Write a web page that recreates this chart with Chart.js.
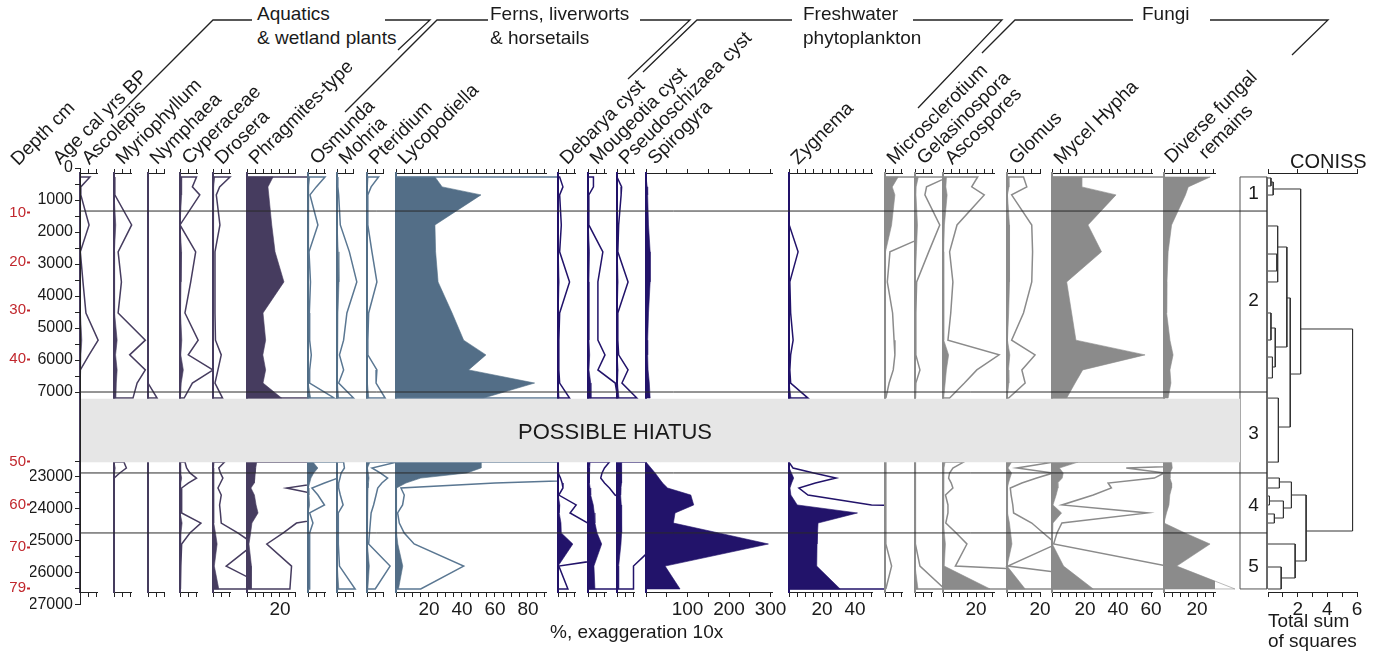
<!DOCTYPE html>
<html>
<head>
<meta charset="utf-8">
<title>Pollen and NPP diagram</title>
<script src="https://cdn.jsdelivr.net/npm/chart.js@4.4.1/dist/chart.umd.min.js"></script>
<style>
  body { margin: 0; width: 1382px; height: 655px; overflow: hidden; position: relative; background: #fff;
         font-family: "Liberation Sans", Arial, sans-serif; color: #1a1a1a; }
  canvas { position: absolute; }
  .rot { position: absolute; white-space: nowrap; font-size: 19px; line-height: 19px; transform-origin: 0 0; transform: rotate(-45deg); }
  .txt { position: absolute; white-space: nowrap; font-size: 19px; line-height: 24px; }
  #brackets { position: absolute; left: 0; top: 0; }
  #brackets polyline { fill: none; stroke: #222; stroke-width: 1.3; }
</style>
</head>
<body>
<svg id="brackets" width="1382" height="130">
  <polyline points="118,115 213,20 252,20"/>
  <polyline points="385,20 430,20 398,50"/>
  <polyline points="345,112 437,20 488,20"/>
  <polyline points="640,20 690,20 628,79"/>
  <polyline points="643,72 697,20 792,20"/>
  <polyline points="913,20 1002,20 918,108"/>
  <polyline points="982,53 1015,20 1133,20"/>
  <polyline points="1210,20 1328,20 1292,55"/>
</svg>
<script>
// ---- data ----
const sampleAge = [280, 590, 840, 1780, 2620, 3560, 4530, 5380, 5840, 6310, 6720, 7190,
                   22560, 22745, 22900, 23060, 23215, 23370, 23590, 23900, 24150, 24465, 24775, 25120, 25810, 26525];

const taxa = ['Ascolepis', 'Myriophyllum', 'Nymphaea', 'Cyperaceae', 'Drosera', 'Phragmites-type',
              'Osmunda', 'Mohria', 'Pteridium', 'Lycopodiella',
              'Debarya cyst', 'Mougeotia cyst', 'Pseudoschizaea cyst', 'Spirogyra', 'Zygnema',
              'Microsclerotium', 'Gelasinospora', 'Ascospores', 'Glomus', 'Mycel Hypha', 'Diverse fungal'];

const ascolepis      = [0.6, 0.05, 0.05, 0.55, 0.02, 0.18, 0.36, 1.1, 0.55, 0.02, 0, 0,
                        0, 0, 0, 0, 0, 0, 0, 0, 0, 0, 0, 0, 0, 0];
const myriophyllum   = [0.05, 0.05, 0.05, 1.07, 0.25, 0.45, 0.25, 1.9, 0.95, 1.9, 1.4, 1.15,
                        0.6, 0.75, 0.35, 0, 0, 0, 0, 0, 0, 0, 0, 0, 0, 0];
const nymphaea       = [0, 0, 0, 0, 0, 0, 0, 0, 0, 0, 0, 0.55,
                        0, 0, 0, 0, 0, 0, 0, 0, 0, 0, 0, 0, 0, 0];
const cyperaceae     = [1.0, 0.75, 1.2, 0, 0.95, 0.65, 0.3, 1.1, 0.5, 2.0, 0.75, 0.25,
                        0.3, 0.4, 0.6, 1.0, 0.5, 0.1, 0.1, 0.1, 0.1, 1.27, 0.6, 0.1, 0.05, 0.05];
const drosera        = [1.03, 0.4, 0.2, 0.42, 0.12, 0.12, 0.12, 0.15, 0.5, 0.3, 0.12, 0.58,
                        0.7, 0.35, 0.45, 0.6, 0.45, 0.3, 0.5, 0.4, 0.45, 0.5, 1.5, 2.5, 0.8, 3.5];
const phragmites     = [15.8, 12.7, 13.2, 15, 17, 22.4, 9.7, 11.3, 9.6, 11.3, 9.7, 21,
                        5.9, 5.3, 5, 4.8, 4.4, 2.4, 4.5, 5.5, 6.7, 3.0, 2.2, 1.2, 2.7, 2.6];
const osmunda        = [1.03, 0.5, 0.12, 0.6, 0.06, 0.15, 0.08, 0.1, 0.2, 0.1, 0.1, 1.6,
                        3, 6, 3.5, 1.8, 1.0, 0.24, 0.6, 1.0, 0.1, 0.3, 0.1, 0.1, 0.1, 0.1];
const mohria         = [0.05, 0.05, 0.1, 0.2, 0.75, 1.2, 0.6, 0.4, 0.15, 0.4, 0.1, 1.0,
                        0.4, 0.45, 0.25, 0.18, 0.1, 0.1, 0.2, 0.37, 0.08, 0.08, 0.08, 0.08, 0.15, 1.1];
const pteridium      = [0.7, 0.25, 0.05, 0.05, 0.3, 0.6, 0.1, 0.05, 0.05, 0.6, 0.55, 1.1,
                        1.8, 0.3, 0.8, 1.25, 0.9, 0.65, 0.55, 0.4, 0.25, 0.2, 0.15, 0.1, 1.4, 0.5];
const lycopodiella   = [23.6, 28, 51.5, 23.6, 24, 25.5, 34, 41, 54.5, 44, 84, 53,
                        51.5, 51.5, 43, 15, 6, 0.3, 0.5, 0.4, 0.1, 0.2, 0.5, 1.1, 4.1, 1.5];
const debarya        = [0.1, 0.3, 0.1, 0.2, 0.1, 0.7, 0.1, 0.05, 0.05, 0.05, 0.1, 0.7,
                        0, 0, 0.05, 0.15, 0.25, 0.3, 0.05, 1.1, 0.73, 1.8, 2.0, 9, 0.05, 0.6];
const mougeotia      = [0.33, 0.33, 0.05, 0.05, 0.9, 0.6, 0.6, 0.6, 1.03, 0.6, 1.65, 1.8,
                        1.3, 1.0, 0.85, 0.77, 1.0, 1.3, 1.64, 3.2, 3.8, 4.2, 5.5, 8.3, 3.6, 4.2];
const pseudoschizaea = [0.05, 0.28, 0.25, 0.1, 0.05, 0.67, 0.05, 0.05, 0.1, 0.67, 0.3, 1.2,
                        2.5, 2.5, 2.8, 3, 2.8, 2.4, 2.2, 2.6, 2.8, 3, 2.6, 2.4, 1.0, 1.0];
const spirogyra      = [2, 3, 4, 6, 10, 10, 6, 4, 4, 5, 8, 10,
                        2, 12, 22, 31, 40, 52, 108, 115, 70, 66, 175, 295, 46, 82];
const zygnema        = [0, 0, 0, 0.05, 0.55, 0.05, 0.1, 0.25, 0.1, 0.05, 0.1, 1.15,
                        0.05, 0.24, 1.5, 2.85, 1.6, 0.6, 1.15, 5, 41.5, 17.6, 17.3, 17, 16.8, 31];
const microsclerotium = [8, 4.4, 6, 4, 0.3, 0.14, 0.46, 0.55, 0.6, 0.5, 0.25, 0.05,
                        0.05, 0.05, 0.05, 0.05, 0.05, 0.05, 0.05, 0.05, 0.05, 0.05, 0.05, 0.05, 0.4, 0.05];
const gelasinospora  = [2.0, 0.7, 0.6, 1.5, 0.83, 0.1, 0.05, 0.05, 0.05, 0.3, 0.05, 0.05,
                        0.02, 0.02, 0.02, 0.02, 0.02, 0.02, 0.02, 0.02, 0.02, 0.02, 0.02, 0.05, 0.3, 1.8];
const ascospores     = [2.1, 1.74, 2.5, 0.85, 0.4, 0.6, 0.47, 0.3, 3.4, 2.05, 1.3, 0.4,
                        1.25, 0.6, 0.4, 0.34, 0.5, 0.6, 0.15, 0.3, 0.3, 0.17, 0.8, 1.45, 0.75, 28.5];
const glomus         = [1.0, 1.2, 0.28, 1.5, 1.55, 1.5, 1.0, 0.28, 1.7, 0.9, 1.1, 0.1,
                        2.8, 0.6, 2.8, 1.8, 0.9, 0.2, 0.25, 0.35, 0.4, 1.5, 2.2, 3, 0.05, 11];
const mycelHypha     = [18, 18, 38.8, 21.8, 30, 8.9, 11.9, 14.5, 56.4, 18.6, 14, 8.9,
                        15.8, 4.5, 6.8, 6.2, 3.4, 3.6, 2.5, 0.6, 5.8, 0.6, 0.3, 0.1, 7, 25];
const diverseFungal  = [28, 14.7, 13, 4.6, 2.5, 1.8, 1.6, 3.6, 5.5, 3.6, 4.2, 2.5,
                        4.6, 5, 3.6, 3.6, 4.6, 4.6, 3.5, 3.0, 1.5, 0, 12.7, 27.9, 7.7, 43];

const taxaValues = [ascolepis, myriophyllum, nymphaea, cyperaceae, drosera, phragmites,
                    osmunda, mohria, pteridium, lycopodiella,
                    debarya, mougeotia, pseudoschizaea, spirogyra, zygnema,
                    microsclerotium, gelasinospora, ascospores, glomus, mycelHypha, diverseFungal];
// which taxa get the 10x exaggeration outline
const exaggerated = taxa.map(t => t !== 'Spirogyra' && t !== 'Diverse fungal');
const EXAG = 10;

const hiatus = [7220, 22560];            // cal yrs BP, start / end of the gap
const zoneBounds = [1345, 7000, 22900, 24775];
const zoneNames = ['1', '2', '3', '4', '5'];

const ageTicks = [0, 500, 1000, 1500, 2000, 2500, 3000, 3500, 4000, 4500, 5000, 5500, 6000, 6500, 7000,
                  22500, 23000, 23500, 24000, 24500, 25000, 25500, 26000, 26500, 27000];
const depthCm  = [10, 20, 30, 40, 50, 60, 70, 79];
const depthAge = [1400, 2940, 4440, 5970, 22400, 23900, 25215, 26495];

// CONISS dendrogram: each bracket joins two children at height brH
const brH        = [0.2, 0.35, 2.2, 1.5, 1.27, 0.65, 0.6, 0.49, 0.2, 0.3, 0.7, 5.7, 2.57, 1.58, 0.77, 1.04, 0.1, 0.43, 1.83, 0.89];
const brTop      = [312, 438, 656, 4062, 2469, 1812, 2688, 5000, 4531, 5906, 7190, 5031, 23589, 23182, 23058, 23776, 23620, 24182, 25120, 25839];
const brBot      = [562, 844, 6438, 14030, 5594, 3562, 3219, 6219, 5375, 6562, 22560, 24714, 25651, 23995, 23370, 24308, 23901, 24464, 26182, 26526];
const brTopChild = [0, 0.2, 0.35, 1.27, 0.65, 0, 0, 0.2, 0, 0, 0, 2.2, 1.58, 0.77, 0, 0.1, 0, 0, 0, 0];
const brBotChild = [0, 0, 1.5, 0.7, 0.49, 0, 0, 0.3, 0, 0, 0, 2.57, 1.83, 1.04, 0, 0.43, 0, 0, 0.89, 0];

// ---- layout ----
const panelBase = [80, 114, 148, 180, 213, 247, 308, 337, 367, 396, 558, 588, 617, 646, 789, 885, 915, 943, 1007, 1052, 1164];
const panelLen  = [17, 17, 16, 17, 17, 48, 17, 16, 16, 150, 17, 18, 17, 126, 83, 17, 17, 51, 33, 100, 51];
const panelPx   = panelLen.map((l, i) => i === 13 ? 0.415 : 1.65);   // px per % unit
const minorStep = panelLen.map((l, i) => i === 13 ? 50 : 5);
const labelStep = panelLen.map((l, i) => i === 13 ? 100 : 20);
const groupOf   = [0, 0, 0, 0, 0, 0, 1, 1, 1, 1, 2, 2, 2, 2, 2, 3, 3, 3, 3, 3, 3];
const groupFill = ['#463c5f', '#536e87', '#22136a', '#8b8b8b'];
const groupLine = ['#463c5f', '#5a7792', '#22136a', '#8b8b8b'];
const LAST_EDGE = 1240;

const Y0 = 168, PXD = 0.032;               // page y of display value 0, px per display unit
const PLOT_TOP = 173, PLOT_BOT = 592;
const D_TOP = (PLOT_TOP - Y0) / PXD, D_BOT = (PLOT_BOT - Y0) / PXD;
const TOP_AX = 8, BOT_AX = 34;
const D_GAP = 1970;                         // display units given to the hiatus band

function toDisplay(a) {
  if (a <= hiatus[0]) return a;
  if (a >= hiatus[1]) return a - (hiatus[1] - hiatus[0]) + D_GAP;
  return hiatus[0] + (a - hiatus[0]) * D_GAP / (hiatus[1] - hiatus[0]);
}

Chart.defaults.font.family = '"Liberation Sans", Arial, sans-serif';
Chart.defaults.color = '#1a1a1a';
Chart.defaults.animation = false;
Chart.defaults.plugins.legend.display = false;
Chart.defaults.plugins.tooltip.enabled = false;

function addCanvas(left, top, w, h) {
  const c = document.createElement('canvas');
  c.width = w; c.height = h;
  c.style.left = left + 'px'; c.style.top = top + 'px';
  document.body.appendChild(c);
  return c;
}

function stepTicks(max, step) {
  return s => {
    const t = [];
    for (let v = 0; v <= max + 1e-6; v += step) t.push({ value: +v.toFixed(6) });
    if (max - t[t.length - 1].value > step * 0.3) t.push({ value: max });
    s.ticks = t;
  };
}

// curve points for one taxon, broken at the hiatus, closed to the baseline at both ends
function buildPoints(values, factor) {
  const segs = [[]];
  sampleAge.forEach((a, k) => {
    if (k > 0 && sampleAge[k - 1] <= hiatus[0] && a >= hiatus[1]) segs.push([]);
    segs[segs.length - 1].push(k);
  });
  const pts = [];
  segs.forEach((seg, si) => {
    const d0 = toDisplay(sampleAge[seg[0]]);
    const d1 = toDisplay(sampleAge[seg[seg.length - 1]]);
    if (si > 0) pts.push({ x: null, y: (pts[pts.length - 1].y + d0) / 2 });
    pts.push({ x: 0, y: d0 });
    seg.forEach(k => pts.push({ x: values[k] * factor, y: toDisplay(sampleAge[k]) }));
    pts.push({ x: 0, y: d1 });
  });
  return pts;
}

function depthScale() {
  return { type: 'linear', min: D_TOP, max: D_BOT, reverse: true, display: false };
}

// ---- taxon panels ----
taxa.forEach((name, i) => {
  const base = panelBase[i], len = panelLen[i];
  const max = len / panelPx[i];
  const next = i < taxa.length - 1 ? panelBase[i + 1] : LAST_EDGE;
  const padL = 4, padR = Math.max(next - base - len, 4);
  const cv = addCanvas(base - padL, PLOT_TOP - TOP_AX, padL + len + padR, TOP_AX + (PLOT_BOT - PLOT_TOP) + BOT_AX);
  const g = groupOf[i];
  const clip = { left: 3, top: 3, right: padR - 1, bottom: 3 };
  const datasets = [{
    data: buildPoints(taxaValues[i], 1),
    fill: 'origin', backgroundColor: groupFill[g], borderColor: groupFill[g], borderWidth: 0.6,
    pointRadius: 0, order: 2, clip: clip
  }];
  if (exaggerated[i]) datasets.push({
    data: buildPoints(taxaValues[i], EXAG),
    fill: false, borderColor: groupLine[g], borderWidth: 1.5,
    pointRadius: 0, order: 1, clip: clip
  });
  const lab = labelStep[i];
  new Chart(cv, {
    type: 'line',
    data: { datasets },
    options: {
      indexAxis: 'y', responsive: false, maintainAspectRatio: false, events: [],
      layout: { autoPadding: false, padding: { left: padL, right: padR, top: 0, bottom: 0 } },
      scales: {
        x: {
          type: 'linear', position: 'bottom', min: 0, max,
          afterBuildTicks: stepTicks(max, minorStep[i]),
          afterFit: s => { s.height = BOT_AX; },
          grid: { drawOnChartArea: false, tickLength: 5, tickColor: '#222' },
          border: { color: '#222' },
          ticks: { autoSkip: false, maxRotation: 0, padding: 1, font: { size: 19 },
                   callback: v => (v > 0 && Math.abs(v % lab) < 1e-6) ? String(v) : '' }
        },
        xTop: {
          type: 'linear', position: 'top', min: 0, max,
          afterBuildTicks: stepTicks(max, minorStep[i]),
          afterFit: s => { s.height = TOP_AX; },
          grid: { drawOnChartArea: false, tickLength: 4, tickColor: '#222' },
          border: { color: '#222' },
          ticks: { display: false }
        },
        y: {
          type: 'linear', min: D_TOP, max: D_BOT, reverse: true, position: 'left',
          afterFit: s => { s.width = 0; },
          grid: { display: false }, ticks: { display: false },
          border: { display: true, color: groupFill[g], width: 2 }
        }
      }
    }
  });
});

// ---- CONISS dendrogram ----
(function () {
  const base = 1268, len = 89, padL = 4, padR = 14;
  const cv = addCanvas(base - padL, PLOT_TOP - TOP_AX, padL + len + padR, TOP_AX + (PLOT_BOT - PLOT_TOP) + BOT_AX);
  const pts = [];
  brH.forEach((h, i) => {
    const t = toDisplay(brTop[i]), b = toDisplay(brBot[i]);
    pts.push({ x: brTopChild[i], y: t }, { x: h, y: t }, { x: h, y: b }, { x: brBotChild[i], y: b }, { x: null, y: null });
  });
  new Chart(cv, {
    type: 'scatter',
    data: { datasets: [{ data: pts, showLine: true, spanGaps: false, borderColor: '#333', borderWidth: 1, pointRadius: 0, clip: false }] },
    options: {
      responsive: false, maintainAspectRatio: false, events: [],
      layout: { autoPadding: false, padding: { left: padL, right: padR, top: 0, bottom: 0 } },
      scales: {
        x: {
          type: 'linear', position: 'bottom', min: 0, max: 6,
          afterBuildTicks: stepTicks(6, 1),
          afterFit: s => { s.height = BOT_AX; },
          grid: { drawOnChartArea: false, tickLength: 5, tickColor: '#222' },
          border: { color: '#222' },
          ticks: { autoSkip: false, maxRotation: 0, padding: 1, font: { size: 19 },
                   callback: v => (v > 0 && v % 2 === 0) ? String(v) : '' }
        },
        xTop: {
          type: 'linear', position: 'top', min: 0, max: 6,
          afterBuildTicks: stepTicks(6, 2),
          afterFit: s => { s.height = TOP_AX; },
          grid: { drawOnChartArea: false, tickLength: 4, tickColor: '#222' },
          border: { color: '#222' }, ticks: { display: false }
        },
        y: depthScale()
      }
    }
  });
})();

// ---- age and depth axes ----
(function () {
  const padT = 12, h = 436;
  const cv = addCanvas(0, Y0 - padT, 81, h + 2 * padT);
  new Chart(cv, {
    type: 'line',
    data: { datasets: [] },
    options: {
      responsive: false, maintainAspectRatio: false, events: [],
      layout: { autoPadding: false, padding: { left: 0, right: 0, top: padT, bottom: padT } },
      scales: {
        x: { type: 'linear', display: false, min: 0, max: 1 },
        y: {
          type: 'linear', position: 'left', weight: 0, min: 0, max: h / PXD, reverse: true,
          afterFit: s => { s.width = 50; },
          afterBuildTicks: s => { s.ticks = ageTicks.map(a => ({ value: toDisplay(a) })); },
          grid: { drawOnChartArea: false, tickLength: 5, tickColor: '#222' },
          border: { color: '#222' },
          ticks: { autoSkip: false, padding: 2, font: { size: 16 },
                   callback: (v, i) => ageTicks[i] % 1000 === 0 ? String(ageTicks[i]) : '' }
        },
        yDepth: {
          type: 'linear', position: 'left', weight: 1, min: 0, max: h / PXD, reverse: true,
          afterFit: s => { s.width = 30; },
          afterBuildTicks: s => { s.ticks = depthAge.map(a => ({ value: toDisplay(a) })); },
          grid: { drawOnChartArea: false, tickLength: 3, tickWidth: 2, tickColor: '#c1272d' },
          border: { display: false },
          ticks: { autoSkip: false, padding: 1, font: { size: 15 }, color: '#c1272d',
                   callback: (v, i) => String(depthCm[i]) }
        }
      }
    }
  });
})();

// ---- hiatus band, zone lines, zone box (on top of the panels) ----
(function () {
  const left = 80, right = 1268, h = 437;
  const cv = addCanvas(left, Y0, right - left, h);
  const zonePts = [];
  zoneBounds.forEach(b => {
    const d = toDisplay(b);
    zonePts.push({ x: 80, y: d }, { x: 1267, y: d }, { x: 1267, y: null });
  });
  const bt = toDisplay(sampleAge[0]), bb = toDisplay(sampleAge[sampleAge.length - 1]);
  new Chart(cv, {
    type: 'line',
    data: { datasets: [
      { data: [{ x: 81, y: toDisplay(hiatus[0]) }, { x: 1240, y: toDisplay(hiatus[0]) }],
        fill: '+1', backgroundColor: '#e6e6e6', borderColor: '#e6e6e6', borderWidth: 0.5, pointRadius: 0, clip: false },
      { data: [{ x: 81, y: toDisplay(hiatus[1]) }, { x: 1240, y: toDisplay(hiatus[1]) }],
        fill: false, borderColor: '#e6e6e6', borderWidth: 0.5, pointRadius: 0, clip: false },
      { data: zonePts, fill: false, spanGaps: false, borderColor: '#2a2a2a', borderWidth: 1, pointRadius: 0, clip: false },
      { data: [{ x: 1240, y: bt }, { x: 1267, y: bt }, { x: 1267, y: bb }, { x: 1240, y: bb }, { x: 1240, y: bt }],
        fill: false, borderColor: '#555', borderWidth: 1, pointRadius: 0, clip: false }
    ] },
    options: {
      responsive: false, maintainAspectRatio: false, events: [],
      layout: { autoPadding: false, padding: 0 },
      scales: {
        x: { type: 'linear', display: false, min: left, max: right },
        y: { type: 'linear', display: false, min: 0, max: h / PXD, reverse: true }
      }
    }
  });
})();

// ---- text ----
function addText(cls, html, left, top, extra) {
  const d = document.createElement('div');
  d.className = cls; d.innerHTML = html;
  d.style.left = left + 'px'; d.style.top = top + 'px';
  if (extra) Object.assign(d.style, extra);
  document.body.appendChild(d);
  return d;
}
const R = 19 * 0.7071;
const LAB_DX = 9;
function rotLabel(text, x, y) { addText('rot', text, x + LAB_DX - R, y - R); }

rotLabel('Depth cm', 11, 168);
rotLabel('Age cal yrs BP', 53, 167);
taxa.forEach((t, i) => {
  if (t === 'Diverse fungal') return;
  rotLabel(t, panelBase[i] + 2, 167);
});
addText('rot', 'Diverse fungal<br>remains', 1166 + LAB_DX - 21 * 0.7071, 167 - 21 * 0.7071, { lineHeight: '21px', textAlign: 'center' });

addText('txt', 'Aquatics<br>&amp; wetland plants', 257, 2);
addText('txt', 'Ferns, liverworts<br>&amp; horsetails', 490, 2);
addText('txt', 'Freshwater<br>phytoplankton', 803, 2);
addText('txt', 'Fungi', 1142, 2);

addText('txt', 'CONISS', 1290, 151, { lineHeight: '20px', fontSize: '20px' });
addText('txt', 'Total sum<br>of squares', 1268, 611, { lineHeight: '20px' });
addText('txt', '%, exaggeration 10x', 550, 620);
addText('txt', 'POSSIBLE HIATUS', 518, 420, { fontSize: '22px' });

const zoneY = [193, 300, 433, 505, 566];
zoneNames.forEach((z, i) => addText('txt', z, 1247, zoneY[i] - 12, { width: '13px', textAlign: 'center' }));
</script>
</body>
</html>
